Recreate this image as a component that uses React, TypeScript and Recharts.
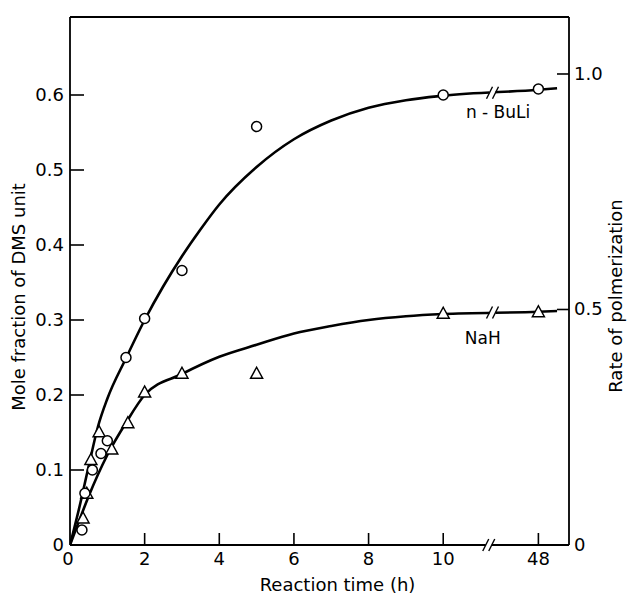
import React from 'react';
import { ComposedChart, Line, Scatter, XAxis, YAxis, ReferenceLine, ReferenceDot } from 'recharts';

const FONT = '"DejaVu Sans", Lato, sans-serif';

// measured points: reaction time (h) and mole fraction of DMS unit
const BULI_T = [0.32, 0.4, 0.6, 0.83, 1.0, 1.5, 2, 3, 5, 10, 48];
const BULI_Y = [0.02, 0.069, 0.1, 0.122, 0.139, 0.25, 0.302, 0.366, 0.558, 0.6, 0.608];
const NAH_T = [0.35, 0.45, 0.56, 0.78, 1.12, 1.55, 2, 3, 5, 10, 48];
const NAH_Y = [0.036, 0.069, 0.114, 0.151, 0.128, 0.163, 0.204, 0.229, 0.229, 0.309, 0.311];

// fitted curves as drawn on the figure
const BULI_FIT_T = [0, 0.25, 0.5, 0.75, 1, 1.5, 2, 2.5, 3, 3.5, 4, 5, 6, 7, 8, 9, 10, 48, 50];
const BULI_FIT_Y = [0, 0.05, 0.105, 0.158, 0.195, 0.249, 0.3, 0.345, 0.385, 0.421, 0.454, 0.504, 0.541, 0.566, 0.583, 0.593, 0.599, 0.607, 0.609];
const NAH_FIT_T = [0, 0.25, 0.5, 1, 1.5, 2, 3, 4, 5, 6, 7, 8, 9, 10, 48, 50];
const NAH_FIT_Y = [0, 0.033, 0.065, 0.12, 0.163, 0.2, 0.228, 0.251, 0.267, 0.282, 0.292, 0.3, 0.305, 0.308, 0.311, 0.312];

const X_TICK_T = [0, 2, 4, 6, 8, 10, 48];
const LEFT_TICKS = [0, 0.1, 0.2, 0.3, 0.4, 0.5, 0.6];
const RIGHT_TICKS = [0, 0.5, 1.0];

// broken time axis: 0-10 h linear, then a jump to 48 h
const AT_48 = 12.55;
const BREAK_POS = 11.22;
const X_MAX = 13.37;
const xPos = (t: number) => (t <= 10 ? t : AT_48 + (t - 48) * 0.25);

const Y_MAX = 0.704;
const R_MAX = 1.121;

const buliPts = BULI_T.map((t, i) => ({ x: xPos(t), y: BULI_Y[i] }));
const nahPts = NAH_T.map((t, i) => ({ x: xPos(t), y: NAH_Y[i] }));
const buliFit = BULI_FIT_T.map((t, i) => ({ x: xPos(t), y: BULI_FIT_Y[i] }));
const nahFit = NAH_FIT_T.map((t, i) => ({ x: xPos(t), y: NAH_FIT_Y[i] }));
const xTicks = X_TICK_T.map(xPos);

const fmt = (v: number) => (v === 0 ? '0' : v.toFixed(1));

const LeftTick = ({ x, y, payload }: any) => (
  <g>
    {payload.value !== 0 && <line x1={x} x2={x + 14} y1={y} y2={y} stroke="#000" strokeWidth={1.6} />}
    <text x={x - 6} y={y} dy={6} textAnchor="end" fontSize={18} fontFamily={FONT} fill="#000">
      {fmt(payload.value)}
    </text>
  </g>
);

const RightTick = ({ x, y, payload }: any) => (
  <g>
    {payload.value !== 0 && <line x1={x - 12} x2={x} y1={y} y2={y} stroke="#000" strokeWidth={1.6} />}
    <text x={x + 5} y={y} dy={6} textAnchor="start" fontSize={18} fontFamily={FONT} fill="#000">
      {fmt(payload.value)}
    </text>
  </g>
);

const BottomTick = ({ x, y, payload }: any) => {
  const i = xTicks.indexOf(payload.value);
  return (
    <g>
      {payload.value !== 0 && <line x1={x} x2={x} y1={y - 12} y2={y} stroke="#000" strokeWidth={1.6} />}
      <text x={payload.value === 0 ? x - 2 : x} y={y + 20} textAnchor="middle" fontSize={18} fontFamily={FONT} fill="#000">
        {String(X_TICK_T[i])}
      </text>
    </g>
  );
};

const CircleMark = ({ cx, cy }: any) => (
  <circle cx={cx} cy={cy} r={5} fill="#fff" stroke="#000" strokeWidth={1.5} />
);

const TriangleMark = ({ cx, cy }: any) => (
  <polygon
    points={`${cx},${cy - 6} ${cx + 6},${cy + 5} ${cx - 6},${cy + 5}`}
    fill="#fff"
    stroke="#000"
    strokeWidth={1.5}
  />
);

const BreakMark = ({ cx, cy }: any) => (
  <g>
    <rect x={cx - 3} y={cy - 3} width={6} height={6} fill="#fff" />
    <line x1={cx - 6} y1={cy + 6} x2={cx} y2={cy - 6} stroke="#000" strokeWidth={1.4} />
    <line x1={cx} y1={cy + 6} x2={cx + 6} y2={cy - 6} stroke="#000" strokeWidth={1.4} />
  </g>
);

const textMark = (label: string) => ({ cx, cy }: any) => (
  <text x={cx} y={cy} dy={6} textAnchor="middle" fontSize={17} fontFamily={FONT} fill="#000">
    {label}
  </text>
);

export default function App() {
  return (
    <div style={{ position: 'absolute', left: 0, top: 0, width: 628, height: 597, background: '#fff' }}>
      <ComposedChart width={628} height={597} margin={{ top: 17, right: 0, bottom: 0, left: 0 }}>
        <XAxis
          type="number"
          dataKey="x"
          domain={[0, X_MAX]}
          allowDataOverflow
          ticks={xTicks}
          interval={0}
          tick={<BottomTick />}
          tickLine={false}
          tickSize={0}
          tickMargin={0}
          height={52}
          axisLine={{ stroke: '#000', strokeWidth: 1.8 }}
          label={({ viewBox }: any) => (
            <text x={viewBox.x + viewBox.width / 2 + 18} y={viewBox.y + 46} textAnchor="middle" fontSize={18} fontFamily={FONT} fill="#000">
              Reaction time (h)
            </text>
          )}
        />
        <YAxis
          yAxisId="left"
          type="number"
          domain={[0, Y_MAX]}
          allowDataOverflow
          ticks={LEFT_TICKS}
          interval={0}
          tick={<LeftTick />}
          tickLine={false}
          tickSize={0}
          tickMargin={0}
          width={70}
          axisLine={{ stroke: '#000', strokeWidth: 1.8 }}
          label={() => (
            <text
              x={19}
              y={297}
              transform="rotate(-90 19 297)"
              textAnchor="middle"
              dy={6}
              fontSize={18}
              fontFamily={FONT}
              fill="#000"
            >
              Mole fraction of DMS unit
            </text>
          )}
        />
        <YAxis
          yAxisId="right"
          orientation="right"
          type="number"
          domain={[0, R_MAX]}
          allowDataOverflow
          ticks={RIGHT_TICKS}
          interval={0}
          tick={<RightTick />}
          tickLine={false}
          tickSize={0}
          tickMargin={0}
          width={59}
          axisLine={{ stroke: '#000', strokeWidth: 1.8 }}
          label={({ viewBox }: any) => (
            <text
              x={viewBox.x + 47}
              y={296}
              transform={`rotate(-90 ${viewBox.x + 47} 296)`}
              textAnchor="middle"
              dy={6}
              fontSize={18}
              fontFamily={FONT}
              fill="#000"
            >
              Rate of polmerization
            </text>
          )}
        />
        <ReferenceLine yAxisId="left" y={Y_MAX} stroke="#000" strokeWidth={1.8} />
        <Line yAxisId="left" data={buliFit} dataKey="y" type="monotone" dot={false} stroke="#000" strokeWidth={2.6} isAnimationActive={false} />
        <Line yAxisId="left" data={nahFit} dataKey="y" type="monotone" dot={false} stroke="#000" strokeWidth={2.6} isAnimationActive={false} />
        <Scatter yAxisId="left" data={nahPts} dataKey="y" shape={<TriangleMark />} isAnimationActive={false} />
        <Scatter yAxisId="left" data={buliPts} dataKey="y" shape={<CircleMark />} isAnimationActive={false} />
        <ReferenceDot yAxisId="left" x={BREAK_POS} y={0} shape={<BreakMark />} />
        <ReferenceDot yAxisId="left" x={BREAK_POS + 0.1} y={0.603} shape={<BreakMark />} />
        <ReferenceDot yAxisId="left" x={BREAK_POS + 0.1} y={0.31} shape={<BreakMark />} />
        <ReferenceDot yAxisId="left" x={11.47} y={0.577} shape={textMark('n - BuLi')} />
        <ReferenceDot yAxisId="left" x={11.06} y={0.276} shape={textMark('NaH')} />
      </ComposedChart>
    </div>
  );
}
